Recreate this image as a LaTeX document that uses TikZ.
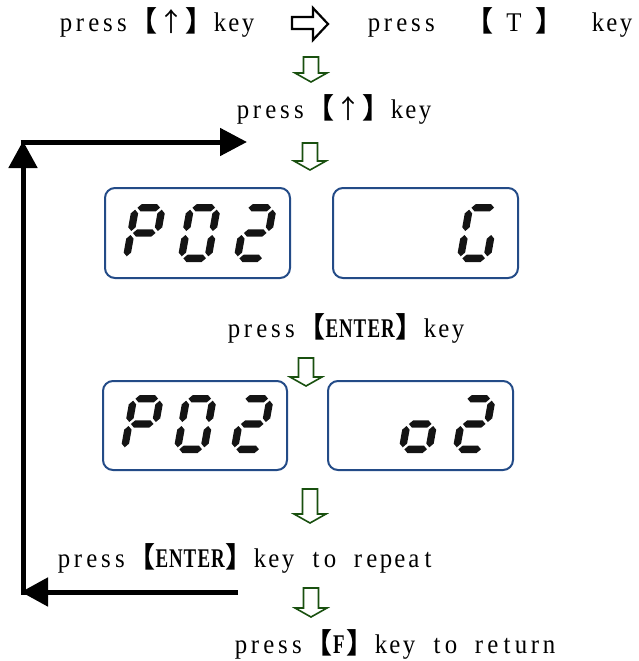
\documentclass[tikz,border=0pt]{standalone}
\usepackage{fontspec}
\usepackage{graphicx}
\setmainfont{Liberation Serif}
\newfontfamily\cjk{Noto Sans CJK JP}
\usetikzlibrary{arrows.meta}
\definecolor{garrcol}{RGB}{25,80,15}
\definecolor{panelcol}{RGB}{35,75,135}
\definecolor{segcol}{RGB}{20,20,20}
\newlength\cw \setlength\cw{14pt}
\newcommand\hc[1]{\makebox[\cw][c]{\scalebox{0.92}[1]{#1}}}
\newcommand\bhc[1]{\makebox[\cw][c]{\scalebox{0.7}[1]{\bfseries #1}}}
\makeatletter
\newcommand\mono[1]{\@tfor\mychr:=#1\do{\hc{\mychr}}}
\newcommand\bmono[1]{\@tfor\mychr:=#1\do{\bhc{\mychr}}}
\makeatother
\newcommand\lbk{\makebox[2\cw][l]{\fontsize{28pt}{30pt}\cjk\bfseries 【}}
\newcommand\rbk{\makebox[2\cw][l]{\fontsize{28pt}{30pt}\cjk\bfseries 】}}
\newcommand\fw[1]{\makebox[2\cw][c]{\fontsize{26pt}{30pt}\cjk #1}}
% seven segment pieces (local units pt, y up)
\newcommand\hseg[3]{\fill[segcol] (#1,#3) -- (#1+3.7,#3+3.7) -- (#2-3.7,#3+3.7) -- (#2,#3) -- (#2-3.7,#3-3.7) -- (#1+3.7,#3-3.7) -- cycle;}
\newcommand\vseg[3]{\fill[segcol] (#1,#2) -- (#1+3.7,#2+3.7) -- (#1+3.7,#3-3.7) -- (#1,#3) -- (#1-3.7,#3-3.7) -- (#1-3.7,#2+3.7) -- cycle;}
\newcommand\sgA{\hseg{5.7}{28.3}{54.3}}
\newcommand\sgB{\vseg{30.3}{31}{52.3}}
\newcommand\sgC{\vseg{30.3}{5.7}{27}}
\newcommand\sgD{\hseg{5.7}{28.3}{3.7}}
\newcommand\sgE{\vseg{3.7}{5.7}{27}}
\newcommand\sgF{\vseg{3.7}{31}{52.3}}
\newcommand\sgG{\hseg{5.7}{28.3}{29}}
\newcommand\segdigit[3]{\begin{scope}[shift={(#1,#2)},x=1pt,y=1pt,xslant=0.18]\foreach \s in {#3}{\csname sg\s\endcsname}\end{scope}}
\newcommand\garrow[3]{\draw[garr] (#1-7.5,#2) -- (#1+7.5,#2) -- (#1+7.5,#3-9) -- (#1+16,#3-9) -- (#1,#3) -- (#1-16,#3-9) -- (#1-7.5,#3-9) -- cycle;}
\tikzset{
  txt/.style={anchor=base west, inner sep=0pt, outer sep=0pt, font=\fontsize{27pt}{30pt}\selectfont},
  garr/.style={draw=garrcol, line width=1.6pt, fill=white, line join=miter},
  panel/.style={draw=panelcol, line width=2pt, rounded corners=10pt},
  loop/.style={line width=5pt, black, -{Triangle[length=27pt,width=28pt]}},
  hollow/.style={draw=black, line width=2.2pt, line join=miter}
}
\begin{document}
\begin{tikzpicture}[x=1pt,y=-1pt]
\useasboundingbox (0,0) rectangle (638,661);
% row 1
\node[txt] (t1) at (59,32) {\mono{press}\lbk\fw{↑}\rbk\mono{key}};
\draw[hollow] (292,17) -- (313,17) -- (313,8) -- (328,24) -- (313,40) -- (313,29) -- (292,29) -- cycle;
\node[txt] (t2) at (367,32) {\mono{press~~}\lbk\mono{~T~}\rbk\mono{~~key}};
\garrow{311}{57}{82}
\node[txt] (t3) at (236,118) {\mono{press}\lbk\fw{↑}\rbk\mono{key}};
\garrow{310}{143}{170}
% panels 1
\draw[panel] (105,188) rectangle (290,278);
\draw[panel] (333,188) rectangle (518,278);
\segdigit{122}{262}{A,B,F,G,E}
\segdigit{177}{262}{A,B,C,D,E,F}
\segdigit{233}{262}{A,B,G,E,D}
\segdigit{456}{262}{A,F,E,D,C}
\node[txt] (t4) at (227,337) {\mono{press}\lbk\bmono{ENTER}\rbk\mono{key}};
\garrow{306}{358}{386}
% panels 2
\draw[panel] (103,381) rectangle (287,470);
\draw[panel] (328,381) rectangle (513,470);
\segdigit{120}{453}{A,B,F,G,E}
\segdigit{173}{453}{A,B,C,D,E,F}
\segdigit{230}{453}{A,B,G,E,D}
\segdigit{398}{453}{G,C,D,E}
\segdigit{452}{453}{A,B,G,E,D}
\garrow{310}{489}{523}
\node[txt] (t5) at (57,567) {\mono{press}\lbk\bmono{ENTER}\rbk\mono{key~to~repeat}};
\garrow{311}{588}{617}
\node[txt] (t6) at (234,653) {\mono{press}\lbk\bmono{F}\rbk\mono{key~to~return}};
% loop arrows
\coordinate (la) at (238,592);
\coordinate (lb) at (21,592);
\coordinate (lc) at (23,594.5);
\coordinate (ld) at (23,141);
\coordinate (le) at (20.5,142);
\coordinate (lf) at (247,142);
\draw[loop] (la) -- (lb);
\draw[loop] (lc) -- (ld);
\draw[line width=5pt, -{Triangle[length=27pt,width=27pt]}] (le) -- (lf);
\end{tikzpicture}
\end{document}
